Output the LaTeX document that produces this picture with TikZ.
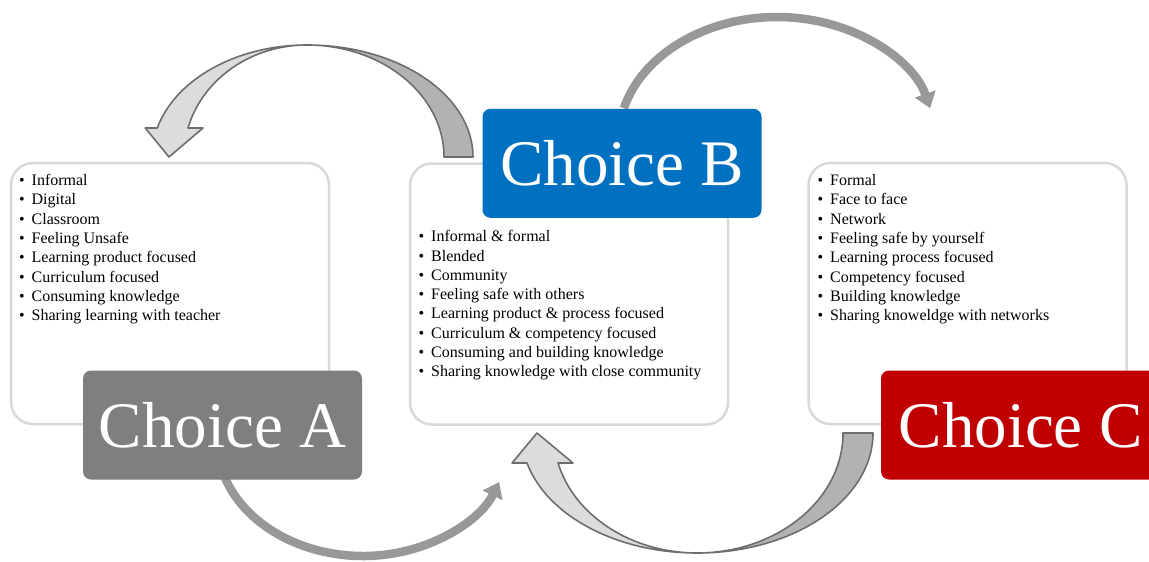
\documentclass[tikz,border=0pt]{standalone}
\usepackage{fontspec}
\setmainfont{Liberation Serif}
\usetikzlibrary{arrows.meta}
\definecolor{boxline}{HTML}{D9D9D9}
\definecolor{labA}{HTML}{7F7F7F}
\definecolor{labB}{HTML}{0070C0}
\definecolor{labC}{HTML}{C00000}
\definecolor{arLight}{HTML}{DCDCDC}
\definecolor{arDark}{HTML}{B2B2B2}
\definecolor{arLine}{HTML}{6E6E6E}
\definecolor{arSolid}{HTML}{989898}
\tikzset{
  listbox/.style={draw=boxline, line width=2.5pt, fill=white, rounded corners=22pt,
    minimum width=318pt, minimum height=261pt, inner sep=0pt},
  choicelabel/.style={rounded corners=8pt, minimum width=279pt, minimum height=109pt,
    inner sep=0pt, text=white, font=\fontsize{65}{70}\selectfont},
  bandlight/.style={fill=arLight, draw=arLine, line width=1.6pt, line join=round},
  banddark/.style={fill=arDark, draw=arLine, line width=1.6pt, line join=round},
  solidarrow/.style={draw=arSolid, line width=8.5pt,
    -{Triangle[length=15pt,width=21pt]}},
  listitem/.style={anchor=base west, inner sep=0pt, font=\fontsize{16}{19.3}\selectfont}
}
\begin{document}
\begin{tikzpicture}[x=1pt,y=1pt]
\clip (0,0) rectangle (1149,-562);
\fill[white] (0,0) rectangle (1149,-562);

% list boxes
\node[listbox] (boxA) at (170,-293.5) {};
\node[listbox] (boxB) at (569,-294) {};
\node[listbox] (boxC) at (967.5,-293.5) {};

% two-tone curved arrow B -> A (top left)
\draw[banddark] (473,-157) arc[start angle=0,end angle=90,x radius=166,y radius=112]
   arc[start angle=90,end angle=0,x radius=137,y radius=112] -- cycle;
\draw[bandlight] (307,-45) arc[start angle=90,end angle=165,x radius=155,y radius=112]
   -- ++(-12,0) -- (169,-157) -- (203,-128) -- (188,-128)
   arc[start angle=165,end angle=90,x radius=123,y radius=112] -- cycle;

% two-tone curved arrow C -> B (bottom)
\draw[banddark] (873,-433) arc[start angle=0,end angle=-90,x radius=176,y radius=120]
   arc[start angle=-90,end angle=0,x radius=146,y radius=120] -- cycle;
\draw[bandlight] (697,-553) arc[start angle=-90,end angle=-165.5,x radius=175.6,y radius=120]
   -- ++(-15,0) -- (537,-433) -- (573,-463) -- (558,-463)
   arc[start angle=-165.5,end angle=-90,x radius=143.6,y radius=120] -- cycle;

% solid arrows
\draw[solidarrow] (623.9,-108.2) arc[start angle=165,end angle=15,x radius=158.5,y radius=123];
\draw[solidarrow] (222,-470) arc[start angle=195,end angle=338.8,x radius=146,y radius=116];

% choice labels
\node[choicelabel, fill=labA] (labelA) at (222.5,-425) {Choice A};
\node[choicelabel, fill=labB] (labelB) at (622,-163.3) {Choice B};
\node[choicelabel, fill=labC] (labelC) at (1020.5,-425) {Choice C};

% list texts
\foreach [count=\i] \t in {Informal, Digital, Classroom, Feeling Unsafe,
  Learning product focused, Curriculum focused, Consuming knowledge,
  Sharing learning with teacher}
  \node[listitem] (itemA\i) at (19,{-185.5-19.3*(\i-1)}) {\makebox[12.5pt][l]{\textbullet}\t};
\foreach [count=\i] \t in {Informal \& formal, Blended, Community, Feeling safe with others,
  Learning product \& process focused, Curriculum \& competency focused,
  Consuming and building knowledge, Sharing knowledge with close community}
  \node[listitem] (itemB\i) at (418.5,{-241.7-19.3*(\i-1)}) {\makebox[12.5pt][l]{\textbullet}\t};
\foreach [count=\i] \t in {Formal, Face to face, Network, Feeling safe by yourself,
  Learning process focused, Competency focused, Building knowledge,
  Sharing knoweldge with networks}
  \node[listitem] (itemC\i) at (817.5,{-185.5-19.3*(\i-1)}) {\makebox[12.5pt][l]{\textbullet}\t};
\end{tikzpicture}
\end{document}
